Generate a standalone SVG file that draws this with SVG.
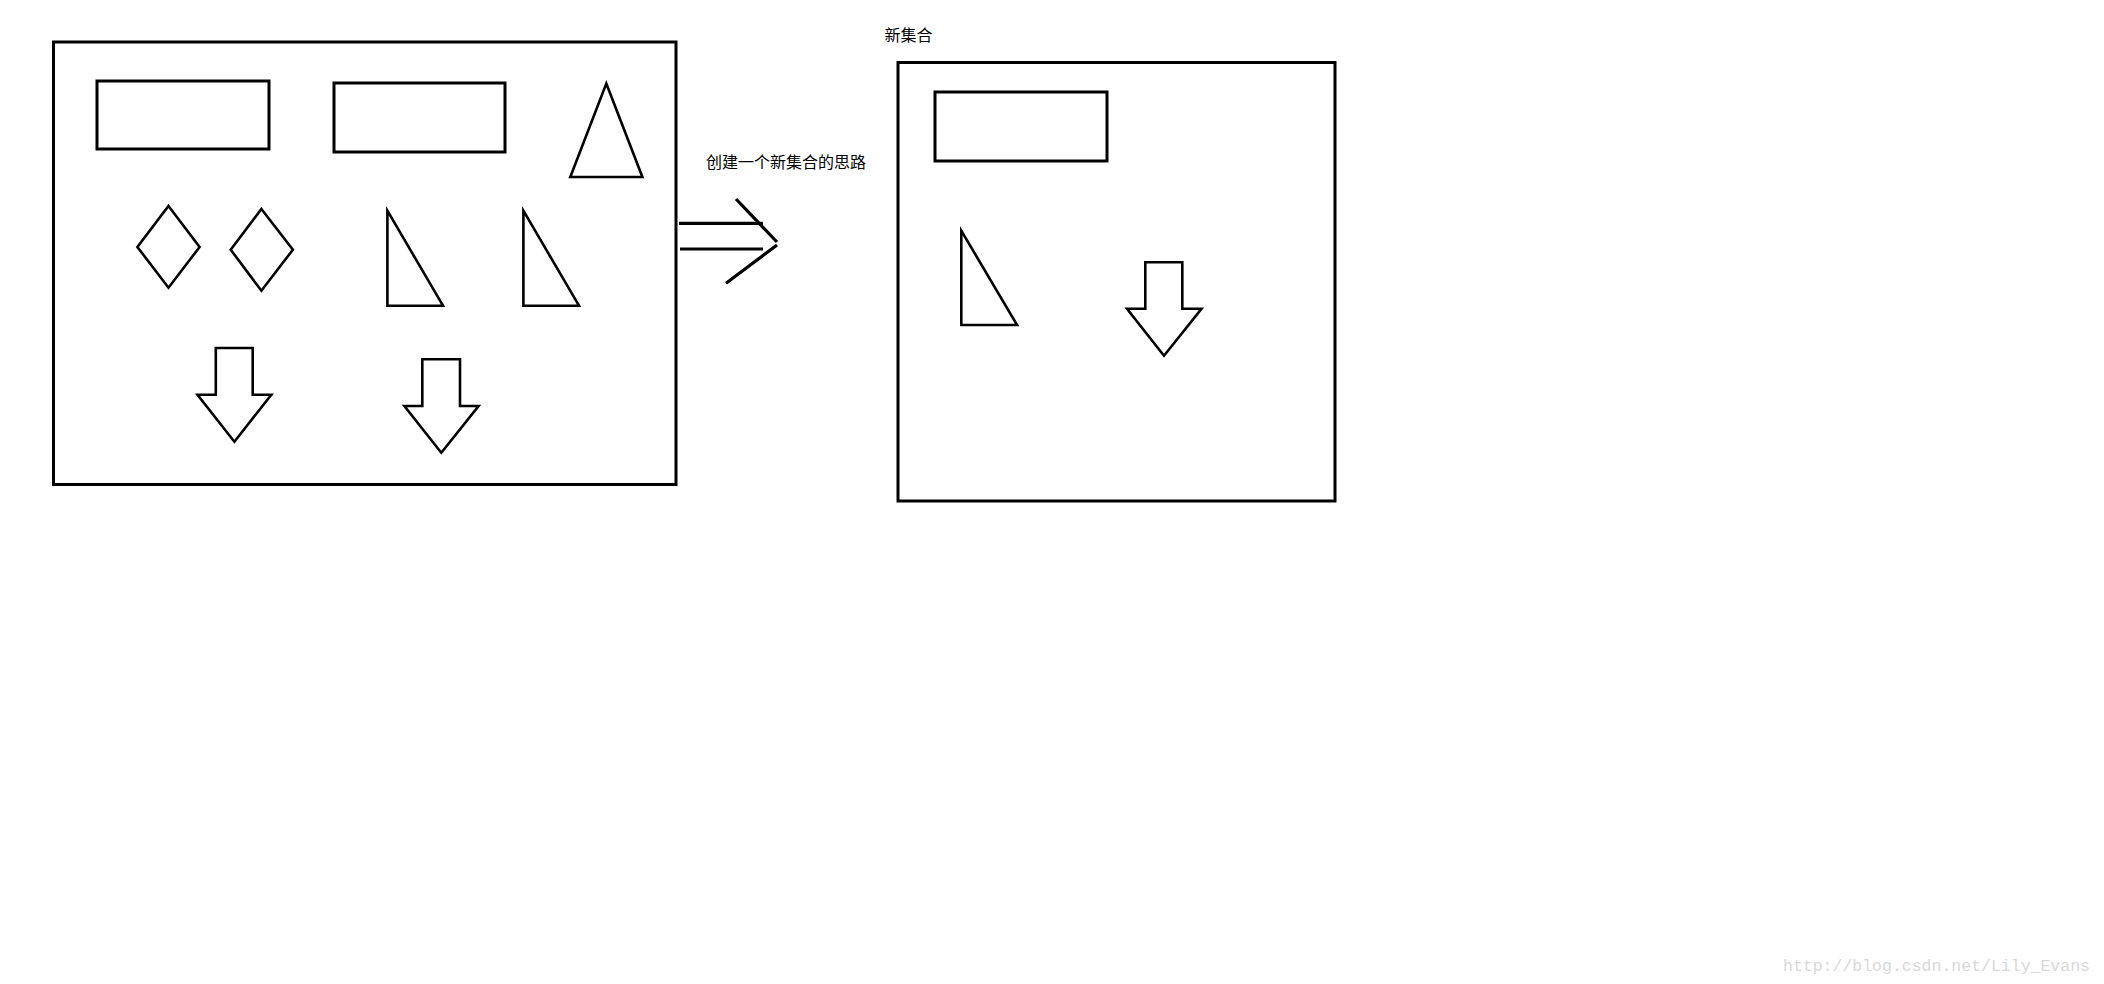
<svg xmlns="http://www.w3.org/2000/svg" width="2104" height="984" viewBox="0 0 2104 984">
<style>
.s{fill:none;stroke:#000;stroke-width:3;stroke-linejoin:miter}
.d{fill:none;stroke:#000;stroke-width:2.6;stroke-linejoin:miter}
.c{fill:none;stroke:#000;stroke-width:3.2;stroke-linecap:butt}
.t{font-family:"Noto Sans CJK SC","Noto Sans CJK JP",sans-serif;font-size:16px;fill:#000}
.w{font-family:"Liberation Mono",monospace;font-size:16.5px;fill:#d8d8d8}
</style>
<rect width="2104" height="984" fill="#fff"/>
<g id="original-set">
<rect class="s" x="53.5" y="42" width="622.5" height="442.5"/>
</g>
<g id="rect-1"><rect class="s" x="97" y="81" width="172" height="68"/></g>
<g id="rect-2"><rect class="s" x="334" y="83" width="171" height="69"/></g>
<g id="iso-triangle"><polygon class="d" points="606.3,83.5 642.4,177 570.3,177"/></g>
<g id="diamond-1"><polygon class="d" points="168.5,206 199.6,247 168.5,287.7 137.4,247"/></g>
<g id="diamond-2"><polygon class="d" points="261.4,209 292.9,249.7 261.4,290.7 230.7,249.7"/></g>
<g id="right-triangle-1"><polygon class="d" points="387.4,210.7 443,305.7 387.4,305.7"/></g>
<g id="right-triangle-2"><polygon class="d" points="523.4,210.7 579,305.7 523.4,305.7"/></g>
<g id="down-arrow-1"><polygon class="d" points="215.8,348 252.7,348 252.7,394.7 271.3,394.7 234.4,441.7 197.5,394.7 215.8,394.7"/></g>
<g id="down-arrow-2"><polygon class="d" points="422.3,359.3 460,359.3 460,406 478.6,406 441.3,452.7 404.4,406 422.3,406"/></g>
<g id="label-idea"><text class="t" x="706" y="167.5">创建一个新集合的思路</text></g>
<g id="new-set">
<text class="t" x="884.5" y="40.5">新集合</text>
<rect class="s" x="898" y="62.5" width="437" height="438.5"/>
</g>
<g id="new-rect"><rect class="s" x="935" y="92" width="172" height="69"/></g>
<g id="new-right-triangle"><polygon class="d" points="961.3,230.7 1017.1,325 961.3,325"/></g>
<g id="new-down-arrow"><polygon class="d" points="1145.3,262.3 1182.3,262.3 1182.3,308.7 1201.5,308.7 1164,355.7 1127,308.7 1145.3,308.7"/></g>
<g id="connectors">
<line class="c" x1="679" y1="223.3" x2="763" y2="223.3"/>
<line class="c" x1="680" y1="249" x2="763" y2="249"/>
<line class="c" x1="736" y1="199" x2="777" y2="242"/>
<line class="c" x1="777" y1="245" x2="726" y2="283.3"/>
</g>
<text class="w" x="1783" y="971">http://blog.csdn.net/Lily_Evans</text>
</svg>
